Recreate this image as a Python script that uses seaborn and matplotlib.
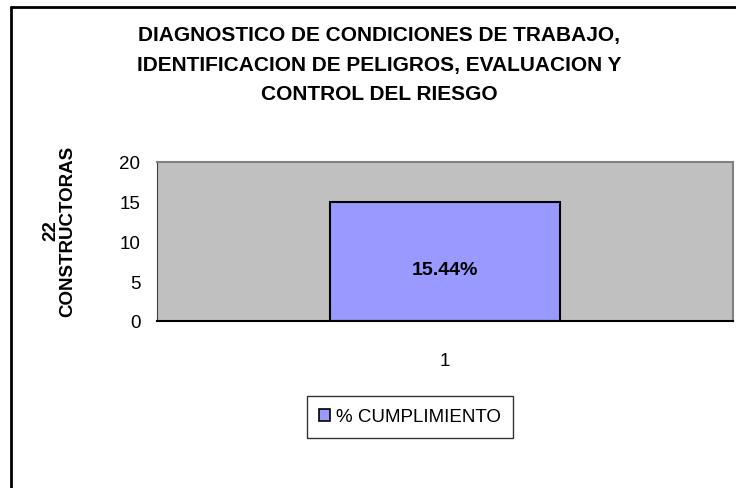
import matplotlib
matplotlib.use("Agg")
import matplotlib.pyplot as plt
import seaborn as sns
import pandas as pd
from matplotlib.lines import Line2D
from matplotlib.patches import Patch

categories = ["1"]
values = [15]
bar_labels = ["15.44%"]
series_name = "% CUMPLIMIENTO"
yticks = [0, 5, 10, 15, 20]

sns.set_style("white")
plt.rcParams['font.family'] = ['Liberation Sans', 'DejaVu Sans']
plt.rcParams['text.color'] = 'black'
plt.rcParams['xtick.color'] = 'black'
plt.rcParams['ytick.color'] = 'black'

df = pd.DataFrame({"cat": categories, "val": values})

fig = plt.figure(figsize=(7.36, 4.89), dpi=100)
ax = fig.add_axes([157/736, 1 - 322/489, (733 - 157)/736, (322 - 163)/489])
ax.set_facecolor("#C0C0C0")

sns.barplot(data=df, x="cat", y="val", ax=ax, color="#9999FF",
            edgecolor="black", linewidth=1.5, width=0.4, saturation=1)

ax.set_xlim(-0.5, 0.5)
ax.set_ylim(0, 20)
ax.set_yticks(yticks)
ax.set_yticklabels([str(t) for t in yticks], fontsize=13.5)
ax.set_xticks([-0.5, 0.5])
ax.set_xticklabels(["", ""])
ax.set_xticks([0], minor=True)
ax.set_xticklabels(categories, minor=True, fontsize=13.5)
ax.tick_params(axis="x", which="major", direction="out", length=6, width=1, color="black")
ax.tick_params(axis="x", which="minor", length=0, pad=22)
ax.tick_params(axis="y", direction="out", length=6, width=1, color="black", pad=6)
ax.set_xlabel("")
ax.set_ylabel("")

for s in ["top", "right"]:
    ax.spines[s].set_color("#808080")
    ax.spines[s].set_linewidth(1.5)
ax.spines["left"].set_color("#404040")
ax.spines["bottom"].set_color("black")
ax.spines["bottom"].set_linewidth(1.5)

# etiqueta de datos dentro de la barra
for p, lab in zip(ax.patches, bar_labels):
    ax.text(p.get_x() + p.get_width() / 2, p.get_height() * 0.43, lab,
            ha="center", va="center", fontsize=14, fontweight="bold")

fig.text(59/736, 1 - 231/489, "22\nCONSTRUCTORAS", rotation=90,
         ha="center", va="center", fontsize=13.5, fontweight="bold",
         linespacing=1.0, multialignment="center")

fig.text(0.515, 1 - 65/489,
         "DIAGNOSTICO DE CONDICIONES DE TRABAJO,\nIDENTIFICACION DE PELIGROS, EVALUACION Y\nCONTROL DEL RIESGO",
         ha="center", va="center", fontsize=15, fontweight="bold", linespacing=1.72)

handles = [Patch(facecolor="#9999FF", edgecolor="black", linewidth=1.2, label=series_name)]
fig.legend(handles=handles, loc="center", bbox_to_anchor=(410/736, 1 - 418/489),
           frameon=True, fancybox=False, edgecolor="black", fontsize=13.5,
           borderpad=0.65, handlelength=0.6, handleheight=0.6, handletextpad=0.3,
           borderaxespad=0)

fig.add_artist(Line2D([11/736, 11/736], [0, 1 - 8/489], color="black", linewidth=2,
                      transform=fig.transFigure))
fig.add_artist(Line2D([11/736, 1], [1 - 8/489, 1 - 8/489], color="black", linewidth=2,
                      transform=fig.transFigure))

fig.savefig("out.png", dpi=100)
